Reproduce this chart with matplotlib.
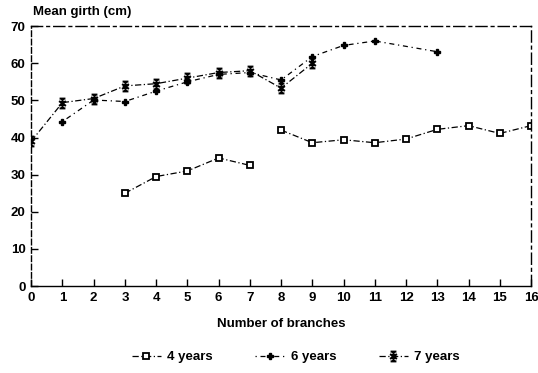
import numpy as np
import matplotlib.pyplot as plt
from matplotlib.path import Path

# === data ===
x4a = [3, 4, 5, 6, 7]
y4a = [25.0, 29.5, 31.0, 34.5, 32.5]
x4b = [8, 9, 10, 11, 12, 13, 14, 15, 16]
y4b = [42.0, 38.6, 39.4, 38.6, 39.6, 42.2, 43.2, 41.1, 43.2]

x6 = [1, 2, 3, 4, 5, 6, 7, 8, 9, 10, 11, 13]
y6 = [44.3, 50.1, 49.7, 52.5, 55.0, 57.0, 57.5, 55.5, 61.8, 64.8, 66.0, 63.1]

x7 = [0, 1, 2, 3, 4, 5, 6, 7, 8, 9]
y7 = [39.0, 49.4, 50.5, 53.9, 54.5, 56.0, 57.5, 58.0, 53.3, 60.0]

xticks = list(range(0, 17))
yticks = [0, 10, 20, 30, 40, 50, 60, 70]

plt.rcParams['font.family'] = ['Liberation Sans', 'DejaVu Sans']
plt.rcParams['font.weight'] = 'bold'

# I-beam with a cross, like the 7-year marker
ibeam = Path(
    [(-0.6, 1), (0.6, 1), (0, 1), (0, -1), (-0.6, -1), (0.6, -1),
     (-0.7, 0.5), (0.7, -0.5), (-0.7, -0.5), (0.7, 0.5)],
    [Path.MOVETO, Path.LINETO, Path.MOVETO, Path.LINETO, Path.MOVETO, Path.LINETO,
     Path.MOVETO, Path.LINETO, Path.MOVETO, Path.LINETO])

fig = plt.figure(figsize=(5.38, 3.73), dpi=100)
ax = fig.add_axes([0.058, 0.233, 0.929, 0.697])

dashdot = (0, (5, 2, 1, 2))
ax.plot(x4a, y4a, color='black', lw=0.9, ls=dashdot, marker='s', ms=4.5,
        mfc='white', mec='black', mew=1.3, label='4 years')
ax.plot(x4b, y4b, color='black', lw=0.9, ls=dashdot, marker='s', ms=4.5,
        mfc='white', mec='black', mew=1.3)
ax.plot(x6, y6, color='black', lw=0.9, ls=(0, (1, 3, 4, 3)), marker='P', ms=5,
        mfc='black', mec='black', label='6 years')
ax.plot(x7, y7, color='black', lw=0.9, ls=dashdot, marker=ibeam, ms=7,
        mfc='none', mec='black', mew=1.5, label='7 years')

ax.set_xlim(0, 16)
ax.set_ylim(0, 70)
ax.set_xticks(xticks)
ax.set_yticks(yticks)
ax.tick_params(direction='in', length=5, width=1, labelsize=9.5, pad=4)
ax.spines['left'].set_linestyle((0, (4, 2)))
ax.spines['top'].set_linestyle((0, (8, 3, 2, 3)))
ax.spines['right'].set_linestyle((0, (8, 3, 2, 3)))
for s in ax.spines.values():
    s.set_linewidth(1.0)

ax.set_xlabel('Number of branches', fontsize=9.5, fontweight='bold', labelpad=10)
fig.text(0.062, 0.953, 'Mean girth (cm)', fontsize=9.5, fontweight='bold',
         ha='left', va='bottom')

fig.legend(loc='center', bbox_to_anchor=(0.55, 0.042), ncol=3, frameon=False,
           fontsize=9.5, handlelength=2.2, columnspacing=3.2, handletextpad=0.5)

fig.savefig('out.png', dpi=100)
